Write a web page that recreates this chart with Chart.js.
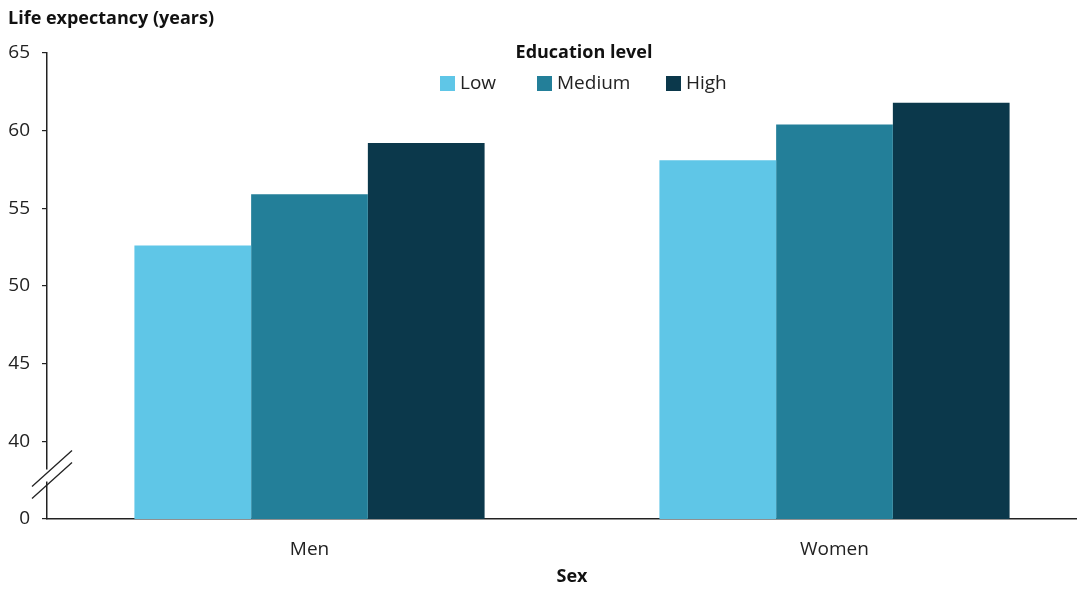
<!DOCTYPE html>
<html>
<head>
<meta charset="utf-8">
<script src="https://cdn.jsdelivr.net/npm/chart.js@4"></script>
<style>
  html, body { margin: 0; padding: 0; background: #fff; }
</style>
</head>
<body>
<canvas id="chart" width="1080" height="590"></canvas>
<script>
// data
const categories = ["Men", "Women"];
const seriesNames = ["Low", "Medium", "High"];
const lowValues = [52.6, 58.1];
const mediumValues = [55.9, 60.4];
const highValues = [59.2, 61.8];
const yTickValues = [35, 40, 45, 50, 55, 60, 65]; // 35 sits under the axis break and reads "0"
const yTickLabels = ["0", "40", "45", "50", "55", "60", "65"];
const colors = ["#5fc6e7", "#237f99", "#0b384b"];

const FONT = '"Open Sans", "Noto Sans", sans-serif';
const TEXT = "#222";

// original category band runs a bit past the canvas edge, stretch the x scale
const stretchX = {
  id: "stretchX",
  afterLayout(chart) {
    const x = chart.scales.x;
    x.right = x.left + 1050;
    x.width = 1050;
    x.configure();
  }
};

// title + legend drawn by hand, legend sits inside the plot like the original
const headerPlugin = {
  id: "header",
  afterDraw(chart) {
    const ctx = chart.ctx;
    ctx.save();
    // axis line in the original stops a few px before the edge
    ctx.fillStyle = "#fff";
    ctx.fillRect(1077, chart.chartArea.bottom - 3, 3, 6);

    ctx.fillStyle = "#111";
    ctx.textBaseline = "middle";
    ctx.font = "bold 18px " + FONT;
    ctx.textAlign = "left";
    ctx.fillText("Life expectancy (years)", 8, 19);

    ctx.textAlign = "center";
    ctx.fillText("Education level", 584, 53);

    const boxX = [440, 537, 666];
    ctx.font = "19px " + FONT;
    ctx.textAlign = "left";
    chart.data.datasets.forEach((ds, i) => {
      ctx.fillStyle = ds.backgroundColor;
      ctx.fillRect(boxX[i], 76, 15, 15);
      ctx.fillStyle = TEXT;
      ctx.fillText(ds.label, boxX[i] + 20, 84);
    });
    ctx.restore();
  }
};

// the // break marks on the y axis between 0 and 40
const breakPlugin = {
  id: "axisBreak",
  afterDraw(chart) {
    const y = chart.scales.y;
    const ctx = chart.ctx;
    const top = y.getPixelForValue(40);
    const bottom = y.getPixelForValue(35);
    const mid = top + (bottom - top) * 0.44;
    const x = chart.chartArea.left;
    ctx.save();
    ctx.fillStyle = "#fff";
    ctx.fillRect(x - 3, mid - 6, 6, 12);
    ctx.strokeStyle = TEXT;
    ctx.lineWidth = 1.3;
    [-6, 6].forEach(off => {
      ctx.beginPath();
      ctx.moveTo(x - 15, mid + off + 17);
      ctx.lineTo(x + 25, mid + off - 19);
      ctx.stroke();
    });
    ctx.restore();
  }
};

function draw() {
  const ctx = document.getElementById("chart").getContext("2d");
  new Chart(ctx, {
    type: "bar",
    data: {
      labels: categories,
      datasets: [
        { label: seriesNames[0], data: lowValues, backgroundColor: colors[0] },
        { label: seriesNames[1], data: mediumValues, backgroundColor: colors[1] },
        { label: seriesNames[2], data: highValues, backgroundColor: colors[2] }
      ]
    },
    options: {
      responsive: false,
      animation: false,
      layout: { padding: { top: 53, right: 0, left: 0, bottom: 0 } },
      datasets: {
        bar: { categoryPercentage: 0.667, barPercentage: 1.0, borderWidth: 0 }
      },
      plugins: {
        legend: { display: false },
        tooltip: { enabled: false }
      },
      scales: {
        x: {
          afterFit(scale) { scale.height = 71; },
          grid: { display: false, drawTicks: false },
          border: { display: true, color: TEXT, width: 1.5 },
          ticks: { color: TEXT, padding: 19, font: { family: FONT, size: 19 } },
          title: {
            display: true,
            text: "Sex",
            color: "#111",
            padding: { top: 6, bottom: 2 },
            font: { family: FONT, size: 18, weight: "bold" }
          }
        },
        y: {
          min: 35,
          max: 65,
          afterFit(scale) { scale.width = 47; },
          afterBuildTicks(scale) {
            scale.ticks = yTickValues.map(v => ({ value: v }));
          },
          grid: {
            drawOnChartArea: false,
            drawTicks: true,
            tickLength: 5,
            color: TEXT,
            lineWidth: 1.2
          },
          border: { display: true, color: TEXT, width: 1.5 },
          ticks: {
            color: TEXT,
            padding: 12,
            font: { family: FONT, size: 19 },
            callback: (v) => yTickLabels[yTickValues.indexOf(v)]
          }
        }
      }
    },
    plugins: [stretchX, headerPlugin, breakPlugin]
  });
}

Promise.all([
  document.fonts.load('19px "Open Sans"'),
  document.fonts.load('bold 18px "Open Sans"')
]).then(draw, draw);
</script>
</body>
</html>
